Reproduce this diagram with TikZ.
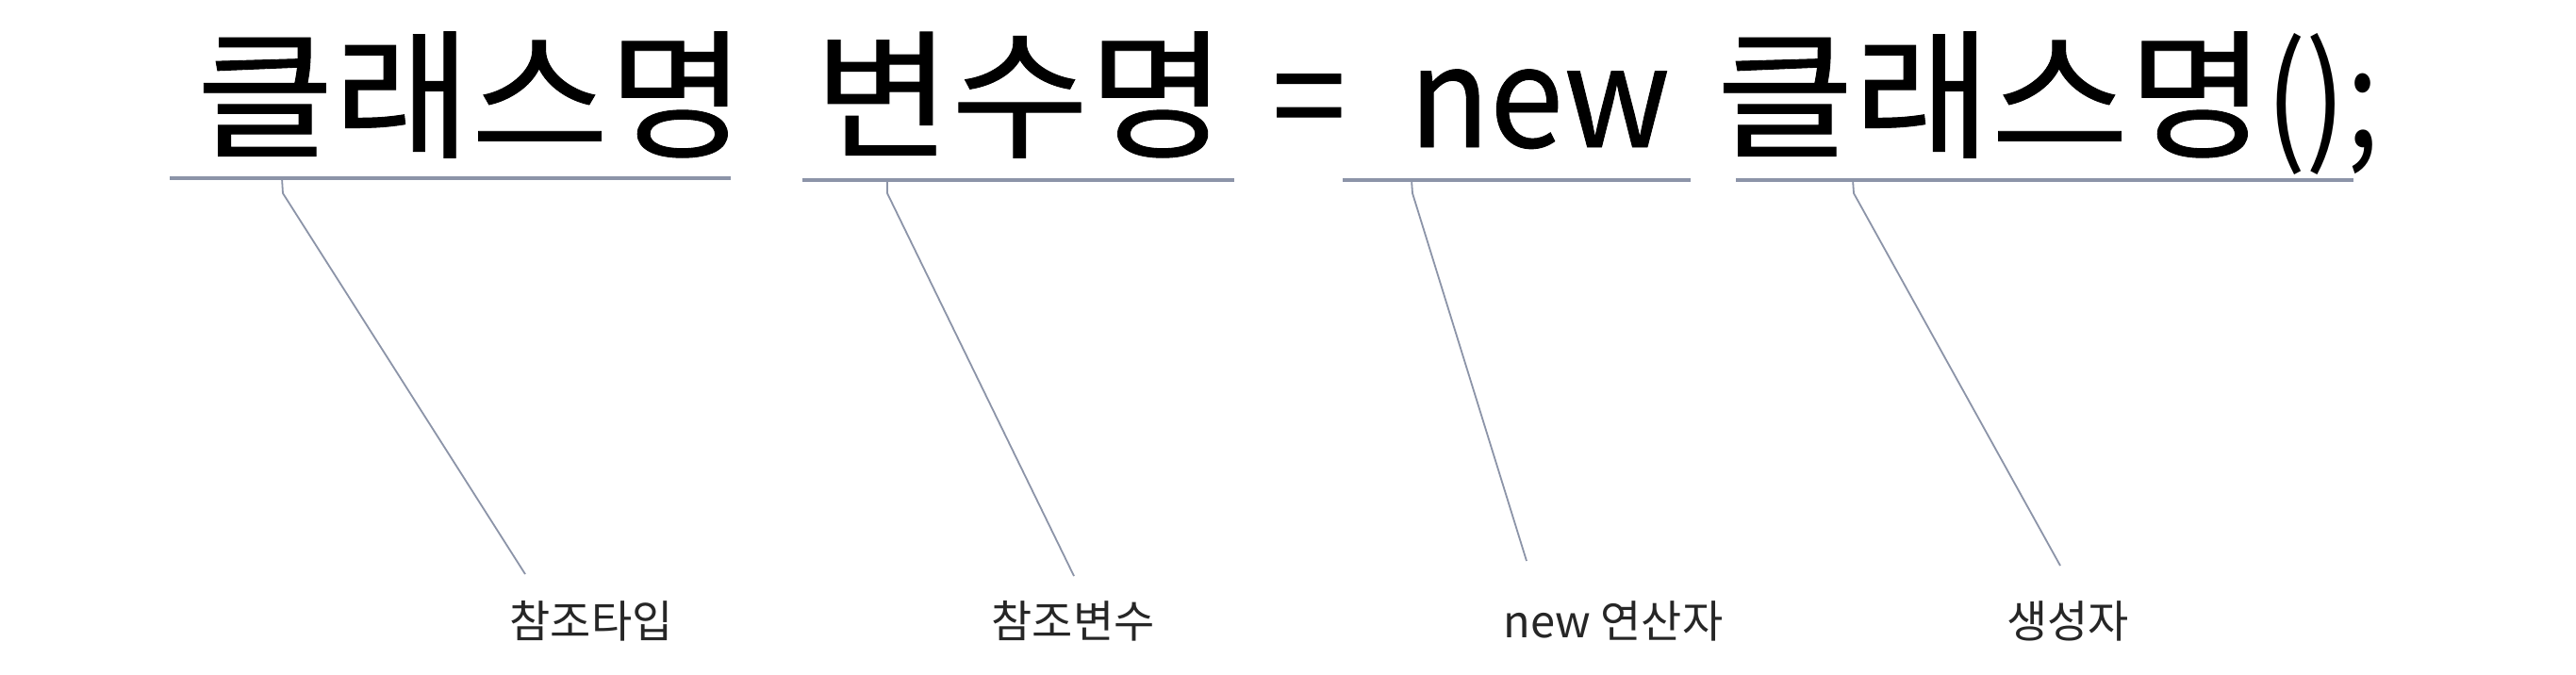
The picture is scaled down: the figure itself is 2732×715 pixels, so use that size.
\documentclass[tikz,border=0pt]{standalone}
\usepackage{fontspec}
\setmainfont{Noto Sans CJK KR}
\newfontfamily\hangulwide[FakeBold=0.6,FakeStretch=1.07]{Noto Sans CJK KR}
\newfontfamily\latinmain[FakeBold=0.6,FakeStretch=0.95]{Noto Sans CJK KR}
\newfontfamily\punctmain[FakeStretch=0.85]{Noto Sans CJK KR}
\definecolor{linecol}{HTML}{8C94A8}
\tikzset{
  word/.style={anchor=base west, inner sep=0pt, font=\hangulwide\fontsize{148}{150}\selectfont},
  lword/.style={anchor=base west, inner sep=0pt, font=\latinmain\fontsize{148}{150}\selectfont},
  pword/.style={anchor=base west, inner sep=0pt, font=\punctmain\fontsize{148}{150}\selectfont},
  lbl/.style={anchor=base, inner sep=0pt, font=\fontsize{47}{50}\selectfont, text=black!85},
  uline/.style={draw=linecol, line width=3.5pt},
  conn/.style={draw=linecol, line width=1.8pt}
}
\begin{document}
\begin{tikzpicture}[x=1pt,y=-1pt]
\useasboundingbox[fill=white] (0,0) rectangle (2732,715);
% main statement
\node[word] (w1) at (208,156) {클래스명};
\node[word] (w2) at (863,156) {변수명};
\node[lword] (eq) at (1349,156) {=};
\node[lword] (w3) at (1494,156) {new};
\node[word] (w4) at (1820,156) {클래스명};
\node[pword] (w5) at (w4.base east) {();};
% labels
\node[lbl] (l1) at (627,676) {참조타입};
\node[lbl] (l2) at (1138,676) {참조변수};
\node[lbl] (l3) at (1711,676) {new 연산자};
\node[lbl] (l4) at (2193,676) {생성자};
% underline ends
\coordinate (a1) at (180,189);  \coordinate (b1) at (775,189);
\coordinate (a2) at (851,191);  \coordinate (b2) at (1309,191);
\coordinate (a3) at (1424,191); \coordinate (b3) at (1793,191);
\coordinate (a4) at (1841,191); \coordinate (b4) at (2496,191);
\draw[uline] (a1) -- (b1);
\draw[uline] (a2) -- (b2);
\draw[uline] (a3) -- (b3);
\draw[uline] (a4) -- (b4);
% connector starts, bends and ends
\coordinate (s1) at (299,189);  \coordinate (k1) at (300,205);  \coordinate (e1) at (557,609);
\coordinate (s2) at (941,191);  \coordinate (k2) at (941,205);  \coordinate (e2) at (1139,611);
\coordinate (s3) at (1497,191); \coordinate (k3) at (1498,205); \coordinate (e3) at (1619,595);
\coordinate (s4) at (1965,191); \coordinate (k4) at (1966,205); \coordinate (e4) at (2185,600);
\draw[conn] (s1) -- (k1) -- (e1);
\draw[conn] (s2) -- (k2) -- (e2);
\draw[conn] (s3) -- (k3) -- (e3);
\draw[conn] (s4) -- (k4) -- (e4);
\end{tikzpicture}
\end{document}
